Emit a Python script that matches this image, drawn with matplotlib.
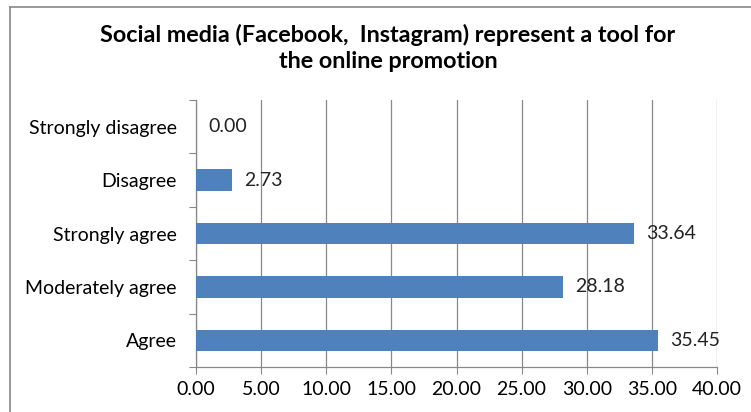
import matplotlib
matplotlib.use("Agg")
import matplotlib.pyplot as plt
from matplotlib.lines import Line2D

categories = ["Agree", "Moderately agree", "Strongly agree", "Disagree", "Strongly disagree"]
values = [35.45, 28.18, 33.64, 2.73, 0.00]
xticks = [0, 5, 10, 15, 20, 25, 30, 35, 40]
title = "Social media (Facebook,  Instagram) represent a tool for\nthe online promotion"

plt.rcParams['font.family'] = ['Lato', 'DejaVu Sans']

fig = plt.figure(figsize=(7.51, 4.12), dpi=100)
ax = fig.add_axes([196/751, 1-367/412, (717-196)/751, (367-100)/412])

y = list(range(len(categories)))
ax.barh(y, values, height=0.4, color='#4F81BD', linewidth=0, zorder=3)
for yi, v in zip(y, values):
    ax.text(v + 0.95, yi, f"{v:.2f}", va='center', ha='left', fontsize=14, color='#222222')

ax.set_xlim(0, 40)
ax.set_ylim(-0.5, len(categories) - 0.5)
ax.set_xticks(xticks)
ax.set_xticklabels([f"{t:.2f}" for t in xticks], fontsize=14)
ax.set_yticks([i - 0.5 for i in range(len(categories) + 1)], minor=False)
ax.set_yticklabels([])
ax.set_yticks(y, minor=True)
ax.set_yticklabels(categories, minor=True, fontsize=14)
ax.tick_params(axis='y', which='minor', length=0, pad=14)
ax.tick_params(axis='y', which='major', length=5, color='#888888', direction='out')
ax.tick_params(axis='x', length=5, color='#888888', direction='out', pad=5)
ax.grid(axis='x', color='#888888', linewidth=0.9, zorder=0)
for s in ['top', 'right']:
    ax.spines[s].set_visible(False)
for s in ['left', 'bottom']:
    ax.spines[s].set_color('#888888')
    ax.spines[s].set_linewidth(0.9)

fig.text(388/751, 1-48/412, title, ha='center', va='center', fontsize=16.8,
         fontweight='bold', linespacing=1.3, color='black')

# chart border
fig.add_artist(Line2D([10/751, 10/751], [0, 1-7/412], transform=fig.transFigure, color='#888888', linewidth=1.2))
fig.add_artist(Line2D([10/751, 1], [1-7/412, 1-7/412], transform=fig.transFigure, color='#888888', linewidth=1.2))

fig.savefig("out.png", dpi=100)
